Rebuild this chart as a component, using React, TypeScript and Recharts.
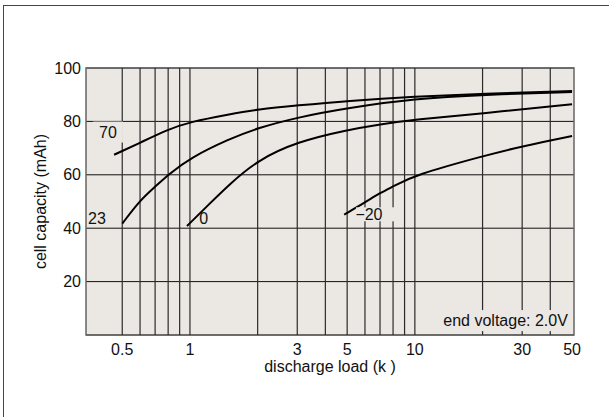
import React from 'react'
import {
  ComposedChart,
  Line,
  XAxis,
  YAxis,
  CartesianGrid,
  ReferenceLine,
  ReferenceArea,
  ReferenceDot,
  Label,
} from 'recharts'

// discharge curves, one per temperature (°C)
const load70 = [0.46, 0.6, 0.8, 1, 1.5, 2, 3, 5, 10, 20, 50]
const cap70 = [67.5, 72, 77, 79.8, 82.7, 84.5, 86, 87.7, 89.3, 90.3, 91.4]

const load23 = [0.5, 0.6, 0.7, 0.8, 1, 1.5, 2, 3, 5, 10, 20, 50]
const cap23 = [41.7, 50.5, 55.5, 60, 66.3, 73.5, 77.5, 81.5, 85, 88.5, 90, 91]

const load0 = [0.97, 1.2, 1.5, 2, 3, 5, 7, 10, 20, 50]
const cap0 = [40.8, 48.5, 56.5, 65.5, 72.4, 76.8, 78.9, 80.7, 83, 86.4]

const loadM20 = [4.85, 6, 7, 8, 10, 20, 30, 50]
const capM20 = [45.1, 49.6, 53.2, 55.6, 59.9, 67, 70.7, 74.5]

const xTicks = [0.5, 1, 3, 5, 10, 30, 50]
const yTicks = [20, 40, 60, 80, 100]
const xGrid = [0.5, 0.6, 0.7, 0.8, 0.9, 1, 2, 3, 4, 5, 6, 7, 8, 9, 10, 20, 30, 40]

const X_MIN = 0.345
const X_MAX = 51

const BG = '#ebe7e3'
const FONT = '"Liberation Sans", Arial, sans-serif'
const FS = 16

const toPoints = (xs: number[], ys: number[]) => xs.map((x, i) => ({ x, y: ys[i] }))

const series = [
  { key: '70', data: toPoints(load70, cap70) },
  { key: '23', data: toPoints(load23, cap23) },
  { key: '0', data: toPoints(load0, cap0) },
  { key: '-20', data: toPoints(loadM20, capM20) },
]

// curve labels; some sit on a small box of plot colour that hides the grid behind them
// (bx = box left edge relative to the anchor point, bw/bh = box size, 0 = no box)
const curveLabels = [
  { text: '70', x: 0.432, y: 76, bx: -15, bw: 30, bh: 21, anchor: 'middle' },
  { text: '23', x: 0.386, y: 43.7, bx: 0, bw: 0, bh: 0, anchor: 'middle' },
  { text: '0', x: 1.15, y: 43.7, bx: 0, bw: 0, bh: 0, anchor: 'middle' },
  { text: '\u221220', x: 6.25, y: 45.2, bx: -13, bw: 40, bh: 14, anchor: 'middle' },
  { text: 'end voltage: 2.0V', x: 47.9, y: 5.4, bx: -128, bw: 132, bh: 21, anchor: 'end' },
]

// eslint-disable-next-line @typescript-eslint/no-explicit-any
function BoxLabel(props: any) {
  const { cx, cy, text, bx, bw, bh, anchor } = props
  if (cx == null || cy == null) return null
  return (
    <g>
      {bw > 0 && <rect x={cx + bx} y={cy - bh / 2} width={bw} height={bh} fill={BG} />}
      <text
        x={cx}
        y={cy}
        dy="0.36em"
        textAnchor={anchor}
        fontSize={FS}
        fontFamily={FONT}
        fill="#111"
      >
        {text}
      </text>
    </g>
  )
}

export default function App() {
  return (
    <div
      style={{
        position: 'absolute',
        left: 0,
        top: 0,
        width: 609,
        height: 417,
        background: '#fff',
        fontFamily: FONT,
      }}
    >
      {/* outer frame: only top and left edges show */}
      <div
        style={{
          position: 'absolute',
          left: 3,
          top: 5,
          width: 620,
          height: 430,
          borderLeft: '1.5px solid #444',
          borderTop: '1.5px solid #444',
        }}
      />
      <ComposedChart
        width={609}
        height={417}
        margin={{ top: 68, right: 35, bottom: 56, left: 0 }}
        style={{ position: 'absolute', left: 0, top: 0 }}
      >
        <CartesianGrid fill={BG} stroke="#111" vertical={false} />
        <XAxis
          type="number"
          dataKey="x"
          scale="log"
          domain={[X_MIN, X_MAX]}
          ticks={xTicks}
          allowDataOverflow
          height={26}
          tickSize={0}
          tickMargin={9}
          axisLine={false}
          tick={{ fill: '#111', fontSize: FS, fontFamily: FONT }}
        >
          <Label
            value="discharge load (k    )"
            position="bottom"
            offset={0}
            style={{ fill: '#111', fontSize: FS, fontFamily: FONT }}
          />
        </XAxis>
        <YAxis
          type="number"
          domain={[0, 100]}
          ticks={yTicks}
          width={86}
          tickSize={0}
          tickMargin={5}
          axisLine={false}
          tick={{ fill: '#111', fontSize: FS, fontFamily: FONT }}
        >
          <Label
            value="cell capacity (mAh)"
            angle={-90}
            position="insideLeft"
            offset={40}
            style={{ textAnchor: 'middle', fill: '#111', fontSize: FS, fontFamily: FONT }}
          />
        </YAxis>

        {xGrid.map((v) => (
          <ReferenceLine key={v} x={v} stroke="#2b2b2b" strokeWidth={1.2} />
        ))}

        <ReferenceArea
          x1={X_MIN}
          x2={X_MAX}
          y1={0}
          y2={100}
          fill="none"
          stroke="#666"
          strokeWidth={1.5}
          ifOverflow="extendDomain"
        />

        {curveLabels.map((l) => (
          <ReferenceDot
            key={l.text}
            x={l.x}
            y={l.y}
            r={0}
            shape={(p: any) => (
              <BoxLabel {...p} text={l.text} bx={l.bx} bw={l.bw} bh={l.bh} anchor={l.anchor} />
            )}
          />
        ))}

        {series.map((s) => (
          <Line
            key={s.key}
            data={s.data}
            dataKey="y"
            type="basis"
            stroke="#000"
            strokeWidth={2}
            dot={false}
            isAnimationActive={false}
          />
        ))}
      </ComposedChart>
    </div>
  )
}
